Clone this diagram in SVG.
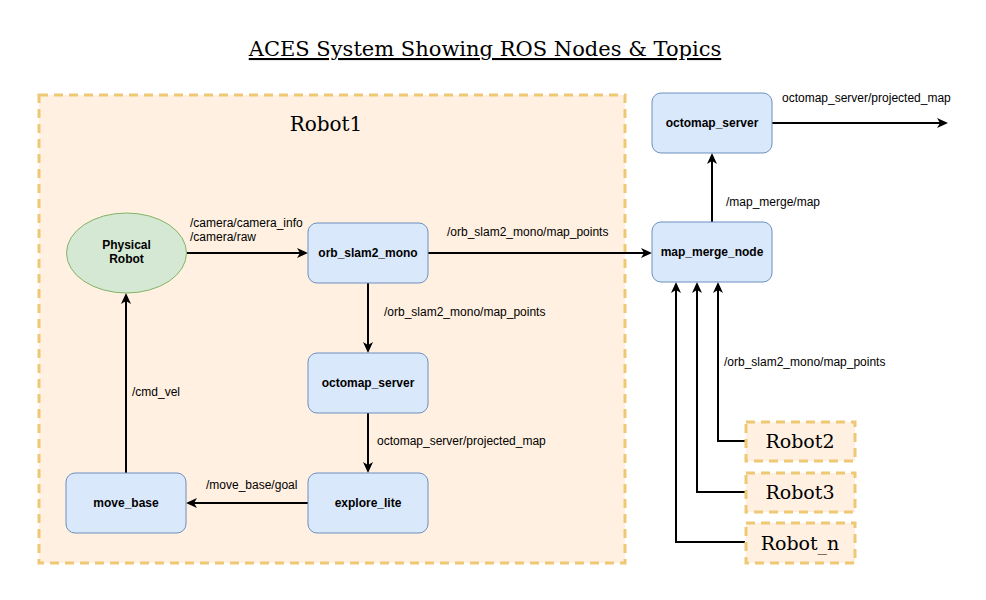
<svg xmlns="http://www.w3.org/2000/svg" width="986" height="600" viewBox="0 0 986 600">
<style>
.node{fill:#dae8fc;stroke:#6c8ebf;stroke-width:1}
.ell{fill:#d5e8d4;stroke:#82b366;stroke-width:1}
.grp{fill:#fff0e1;stroke:#efc874;stroke-width:3;stroke-dasharray:9 6}
.nt{font-family:"Liberation Sans",Arial,sans-serif;font-size:12px;font-weight:bold;fill:#000;text-anchor:middle}
.lb{font-family:"Liberation Sans",Arial,sans-serif;font-size:12px;fill:#000}
.sf{font-family:"DejaVu Serif",serif;font-size:20px;fill:#000;text-anchor:middle}
.cn{fill:none;stroke:#000;stroke-width:2}
</style>
<defs>
<marker id="arr" markerUnits="userSpaceOnUse" markerWidth="14" markerHeight="12" refX="8" refY="5" orient="auto">
<path d="M0,0 L11,5 L0,10 L3,5 Z" fill="#000"/>
</marker>
</defs>
<rect width="986" height="600" fill="#fff"/>
<text x="485" y="56" class="sf" style="font-size:21px" text-decoration="underline">ACES System Showing ROS Nodes &amp; Topics</text>

<g id="robot1-group">
<rect x="39" y="95" width="586" height="468" class="grp"/>
<text x="326" y="131" class="sf">Robot1</text>
</g>

<g id="connectors">
<path class="cn" d="M187,253 L305,253" marker-end="url(#arr)"/>
<path class="cn" d="M428,253 L649,253" marker-end="url(#arr)"/>
<path class="cn" d="M368,283 L368,350" marker-end="url(#arr)"/>
<path class="cn" d="M368,413 L368,470" marker-end="url(#arr)"/>
<path class="cn" d="M308,503 L189,503" marker-end="url(#arr)"/>
<path class="cn" d="M126,473 L126,296" marker-end="url(#arr)"/>
<path class="cn" d="M712,222 L712,156" marker-end="url(#arr)"/>
<path class="cn" d="M772,123 L945,123" marker-end="url(#arr)"/>
<path class="cn" d="M745,441 L718,441 L718,285" marker-end="url(#arr)"/>
<path class="cn" d="M745,492 L697,492 L697,285" marker-end="url(#arr)"/>
<path class="cn" d="M745,542 L676,542 L676,285" marker-end="url(#arr)"/>
<text x="190" y="227" class="lb">/camera/camera_info</text>
<text x="190" y="241" class="lb">/camera/raw</text>
<text x="447" y="236" class="lb">/orb_slam2_mono/map_points</text>
<text x="384" y="316" class="lb">/orb_slam2_mono/map_points</text>
<text x="377" y="445" class="lb">octomap_server/projected_map</text>
<text x="206" y="489" class="lb">/move_base/goal</text>
<text x="132" y="396" class="lb">/cmd_vel</text>
<text x="726" y="206" class="lb">/map_merge/map</text>
<text x="782" y="102" class="lb">octomap_server/projected_map</text>
<text x="724" y="366" class="lb">/orb_slam2_mono/map_points</text>
</g>

<g id="physical-robot">
<ellipse cx="126.5" cy="253" rx="60" ry="40" class="ell"/>
<text x="126.5" y="249" class="nt">Physical</text>
<text x="126.5" y="263" class="nt">Robot</text>
</g>
<g id="orb-slam2-mono">
<rect x="308" y="223" width="120" height="60" rx="9" class="node"/>
<text x="368" y="257" class="nt">orb_slam2_mono</text>
</g>
<g id="octomap-server-local">
<rect x="308" y="353" width="120" height="60" rx="9" class="node"/>
<text x="368" y="387" class="nt">octomap_server</text>
</g>
<g id="explore-lite">
<rect x="308" y="473" width="120" height="60" rx="9" class="node"/>
<text x="368" y="507" class="nt">explore_lite</text>
</g>
<g id="move-base">
<rect x="66" y="473" width="120" height="60" rx="9" class="node"/>
<text x="126" y="507" class="nt">move_base</text>
</g>
<g id="octomap-server-global">
<rect x="652" y="93" width="120" height="60" rx="9" class="node"/>
<text x="712" y="127" class="nt">octomap_server</text>
</g>
<g id="map-merge-node">
<rect x="652" y="222" width="120" height="60" rx="9" class="node"/>
<text x="712" y="256" class="nt">map_merge_node</text>
</g>
<g id="robot2">
<rect x="746" y="422" width="109" height="39" class="grp"/>
<text x="800" y="448" class="sf" style="font-size:19px">Robot2</text>
</g>
<g id="robot3">
<rect x="746" y="473" width="109" height="39" class="grp"/>
<text x="800" y="499" class="sf" style="font-size:19px">Robot3</text>
</g>
<g id="robot-n">
<rect x="746" y="523" width="109" height="40" class="grp"/>
<text x="800" y="550" class="sf" style="font-size:19px">Robot_n</text>
</g>
</svg>
